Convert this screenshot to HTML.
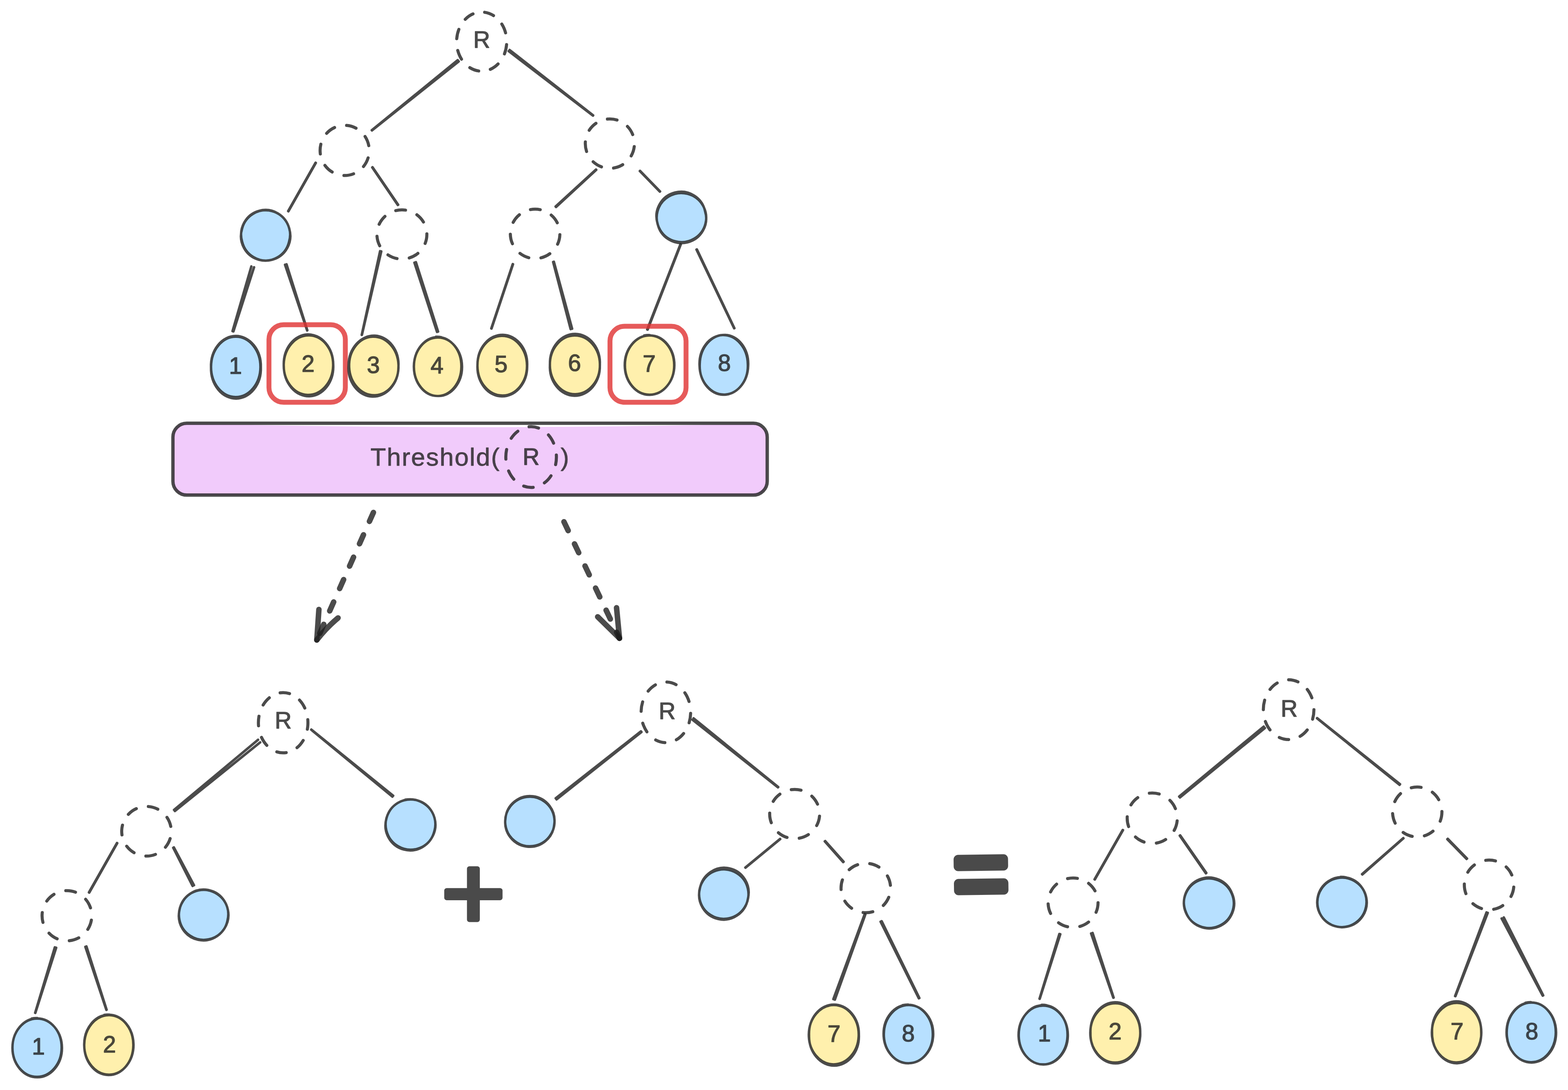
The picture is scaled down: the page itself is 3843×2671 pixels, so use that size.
<!DOCTYPE html>
<html lang="en"><head><meta charset="utf-8"><title>Threshold tree diagram</title>
<style>
html,body{margin:0;padding:0;background:#ffffff;}
body{width:3843px;height:2671px;overflow:hidden;}
svg{display:block;}
text{font-family:"Liberation Sans",sans-serif;fill:#1e1e1e;stroke:#1e1e1e;opacity:0.8;stroke-linejoin:round;stroke-linecap:round;}
.num{font-size:57px;stroke-width:1.6px;text-anchor:middle;}
.ln{stroke:#1e1e1e;stroke-opacity:0.8;stroke-linecap:round;fill:none;}
.el{stroke:#1e1e1e;stroke-opacity:0.8;stroke-width:7.0;fill-opacity:0.8;}
.d{fill:none;stroke-width:7.5;stroke-dasharray:24 30;stroke-linecap:round;}
.b{fill:#a5d8ff;}
.y{fill:#ffec99;}
</style></head><body>
<svg width="3843" height="2671" viewBox="0 0 3843 2671">
<rect width="3843" height="2671" fill="#ffffff"/>
<path d="M458 1037.5Q1152 1055.5 1842 1038.5Q1879.5 1040 1879.5 1073V1179Q1879.5 1213 1845.5 1213H458Q424 1213 424 1179V1071.5Q424 1037.5 458 1037.5Z" fill="#eebefa" fill-opacity="0.8"/>
<rect x="423.8" y="1037.2" width="1456.6" height="176" rx="34" ry="34" fill="none" stroke="#1e1e1e" stroke-opacity="0.8" stroke-width="8.2"/>
<ellipse class="el d" cx="1301.7" cy="1120" rx="62" ry="74.4" pathLength="432" stroke-dashoffset="5.2"/>
<text id="thr" x="908" y="1141" style="font-size:62px;stroke-width:1px;letter-spacing:2.2px">Threshold(</text>
<text class="num" x="1301.5" y="1139">R</text>
<text id="thr2" x="1374" y="1141" style="font-size:62px;stroke-width:1px">)</text>
<path class="ln" d="M1121.8 147.5L911.2 319.1M1124.2 150.5L911.6 319.5" stroke-width="6.2"/>
<path class="ln" d="M1246.9 125.4L1453.3 283.3M1249.1 122.6L1453.7 282.7" stroke-width="6.2"/>
<path class="ln" d="M773.4 398.8L706.3 517.3M774 399.2L706.9 517.7" stroke-width="6.2"/>
<path class="ln" d="M912.4 410.2L975 502.3M913 409.8L975.8 501.7" stroke-width="6.2"/>
<path class="ln" d="M1460.7 415.5L1361.8 506.1M1461.3 416.1L1362.8 507.1" stroke-width="6.2"/>
<path class="ln" d="M1568.2 419.1L1617.3 469.5M1568.6 418.7L1617.7 469.1" stroke-width="6.2"/>
<path class="ln" d="M616 653L569.9 811.5M622.6 655L572.1 812.1" stroke-width="6.2"/>
<path class="ln" d="M698.6 648.8L752.8 809.7M702.2 647.6L753.2 809.5" stroke-width="6.2"/>
<path class="ln" d="M931.6 615.5L886.6 820.6M934.4 616.1L887 820.6" stroke-width="6.2"/>
<path class="ln" d="M1015.7 643.6L1071.1 813.4M1019.3 642.4L1073.7 812.6" stroke-width="6.2"/>
<path class="ln" d="M1256.7 647.3L1204.1 804.9M1257.3 647.5L1204.7 805.1" stroke-width="6.2"/>
<path class="ln" d="M1355.7 641.9L1398.6 806.5M1357.5 641.5L1402.2 805.5" stroke-width="6.2"/>
<path class="ln" d="M1667.6 598.9L1586.3 807.3M1668.4 599.1L1587.3 807.7" stroke-width="6.2"/>
<path class="ln" d="M1707.1 611.6L1799.3 804.5M1707.9 611.2L1799.9 804.3" stroke-width="6.2"/>
<path class="ln" d="M632.4 1812.8L426.6 1984.7M637.6 1819.2L428.6 1987.3" stroke-width="6.2"/>
<path class="ln" d="M762.9 1788.2L961.8 1952.1M763.1 1787.8L963.6 1949.9" stroke-width="6.2"/>
<path class="ln" d="M286.7 2065.8L218 2186.8M287.3 2066.2L218.8 2187.2" stroke-width="6.2"/>
<path class="ln" d="M424.6 2077.4L472 2170.9M426.2 2076.6L475.4 2169.1" stroke-width="6.2"/>
<path class="ln" d="M134.4 2321.5L86.2 2481.9M137.6 2322.5L86.6 2482.1" stroke-width="6.2"/>
<path class="ln" d="M209.2 2320.1L260.7 2474.6M211.8 2319.3L261.3 2474.4" stroke-width="6.2"/>
<path class="ln" d="M1570.9 1792.3L1362 1956.2M1572.1 1793.7L1364 1958.8" stroke-width="6.2"/>
<path class="ln" d="M1697.4 1763.7L1906.7 1929.3M1700 1760.3L1907.3 1928.7" stroke-width="6.2"/>
<path class="ln" d="M1911.8 2055.8L1826.8 2125.8M1912.2 2056.2L1827.2 2126.2" stroke-width="6.2"/>
<path class="ln" d="M2021.5 2061.8L2066.5 2112.4M2022.5 2061L2067.5 2111.6" stroke-width="6.2"/>
<path class="ln" d="M2119.2 2240.4L2042.5 2448.4M2120.8 2241L2046.1 2449.6" stroke-width="6.2"/>
<path class="ln" d="M2158.3 2258.6L2252 2446.3M2160.9 2257.4L2253.2 2445.7" stroke-width="6.2"/>
<path class="ln" d="M3097.2 1780.6L2890.1 1951.9M3100 1784L2891.9 1954.1" stroke-width="6.2"/>
<path class="ln" d="M3227.9 1760.2L3430.1 1923.2M3228.1 1759.8L3431.3 1921.6" stroke-width="6.2"/>
<path class="ln" d="M2751.7 2033.9L2682.7 2154.9M2752.3 2034.1L2683.3 2155.1" stroke-width="6.2"/>
<path class="ln" d="M2891.5 2047.8L2955.5 2139.9M2892.5 2047L2956.5 2139.1" stroke-width="6.2"/>
<path class="ln" d="M3439.3 2053.8L3338.3 2142.2M3439.7 2054.2L3338.9 2142.8" stroke-width="6.2"/>
<path class="ln" d="M3547.3 2056.5L3594.5 2104.9M3548.3 2055.5L3595.5 2103.9" stroke-width="6.2"/>
<path class="ln" d="M2596.4 2288.7L2547.8 2447.4M2598.6 2289.3L2548.2 2447.6" stroke-width="6.2"/>
<path class="ln" d="M2674.2 2287.4L2728.6 2444.8M2677.8 2286.2L2729.4 2444.6" stroke-width="6.2"/>
<path class="ln" d="M3643.3 2235.8L3566.3 2440.9M3646.3 2237L3567.1 2441.1" stroke-width="6.2"/>
<path class="ln" d="M3680.4 2250.8L3781 2439.7M3685.6 2248.2L3782.2 2439.1" stroke-width="6.2"/>
<rect x="659.2" y="795.7" width="187.2" height="190" rx="36" ry="36" fill="none" stroke="#e03131" stroke-opacity="0.8" stroke-width="12"/>
<rect x="1495" y="799.4" width="186.4" height="186.4" rx="36" ry="36" fill="none" stroke="#e03131" stroke-opacity="0.8" stroke-width="12"/>
<ellipse class="el d" cx="1180.5" cy="102" rx="61.4" ry="72.4" pathLength="432" stroke-dashoffset="-7.6"/>
<ellipse class="el d" cx="844.7" cy="368.6" rx="60.2" ry="61.5" pathLength="378" stroke-dashoffset="-18.3"/>
<ellipse class="el d" cx="1494.7" cy="352" rx="60.2" ry="60.5" pathLength="378" stroke-dashoffset="-7.4"/>
<ellipse class="b" cx="651" cy="576.7" rx="59.8" ry="60.3" fill-opacity="0.8"/>
<path class="ln" d="M708.3 592.6A59.7 60 15.1 1 1 593.1 561.4A59.7 60 15.1 1 1 708.3 592.6ZM709.1 560.8A59.9 60.6 -15.1 1 1 593.5 592.1A59.9 60.6 -15.1 1 1 709.1 560.8ZM643 515.3A61.4 61.9 0 0 1 656.8 515.7" stroke-width="5.8"/>
<ellipse class="el d" cx="985" cy="574.5" rx="61.2" ry="60.3" pathLength="378" stroke-dashoffset="1.6"/>
<ellipse class="el d" cx="1311.5" cy="573" rx="60.7" ry="60.5" pathLength="378" stroke-dashoffset="-2.1"/>
<ellipse class="b" cx="1670" cy="533" rx="60.4" ry="59.9" fill-opacity="0.8"/>
<path class="ln" d="M1729 548A60.6 60 14.1 1 1 1611.4 518.4A60.6 60 14.1 1 1 1729 548ZM1728.1 518.1A60.2 59.8 -14.1 1 1 1611.5 547.4A60.2 59.8 -14.1 1 1 1728.1 518.1ZM1665.7 471.7A62 61.5 0 0 1 1679.6 472.8" stroke-width="5.8"/>
<ellipse class="b" cx="578" cy="899.5" rx="60.8" ry="73.8" fill-opacity="0.8"/>
<path class="ln" d="M638.2 899.4A60.4 73.8 0.4 1 1 517.3 898.6A60.4 73.8 0.4 1 1 638.2 899.4ZM639.4 899.6A61.2 73.8 -0.4 1 1 517.1 900.4A61.2 73.8 -0.4 1 1 639.4 899.6ZM569.8 824.8A62.4 75.4 0 0 1 583.9 825" stroke-width="5.8"/>
<ellipse class="y" cx="756" cy="895" rx="60.6" ry="73.3" fill-opacity="0.8"/>
<path class="ln" d="M816.4 896.4A60.5 72.9 1.6 1 1 695.4 893.1A60.5 72.9 1.6 1 1 816.4 896.4ZM816.8 893.6A60.7 73.7 -1.6 1 1 695.5 897A60.7 73.7 -1.6 1 1 816.8 893.6ZM748.1 820.7A62.2 74.9 0 0 1 762.1 821.1" stroke-width="5.8"/>
<ellipse class="y" cx="915.8" cy="897" rx="60.8" ry="71.8" fill-opacity="0.8"/>
<path class="ln" d="M976.6 894.2A60.4 71.6 -2.4 1 1 855.8 899.4A60.4 71.6 -2.4 1 1 976.6 894.2ZM976.5 899.8A61.2 72 2.4 1 1 854.3 894.6A61.2 72 2.4 1 1 976.5 899.8ZM907.4 824.3A62.4 73.4 0 0 1 921.5 824.5" stroke-width="5.8"/>
<ellipse class="y" cx="1073" cy="898.5" rx="58.6" ry="71.9" fill-opacity="0.8"/>
<path class="ln" d="M1130.7 899A58.2 72.1 0.8 1 1 1014.3 897.4A58.2 72.1 0.8 1 1 1130.7 899ZM1132.5 897.9A59 71.7 -0.8 1 1 1014.5 899.6A59 71.7 -0.8 1 1 1132.5 897.9ZM1068.4 825.2A60.2 73.5 0 0 1 1081.9 826.4" stroke-width="5.8"/>
<ellipse class="y" cx="1231" cy="896" rx="60.8" ry="72.9" fill-opacity="0.8"/>
<path class="ln" d="M1291.5 895.1A60.6 72.9 -1 1 1 1170.2 897.2A60.6 72.9 -1 1 1 1291.5 895.1ZM1292.1 896.9A61 72.9 1 1 1 1170.2 894.8A61 72.9 1 1 1 1292.1 896.9ZM1227.4 821.6A62.4 74.5 0 0 1 1241.4 823.2" stroke-width="5.8"/>
<ellipse class="y" cx="1409" cy="894" rx="61.3" ry="71.9" fill-opacity="0.8"/>
<path class="ln" d="M1470.3 893.1A61.3 71.9 -0.8 1 1 1347.7 894.9A61.3 71.9 -0.8 1 1 1470.3 893.1ZM1470.2 894.9A61.3 71.9 0.8 1 1 1347.8 893.1A61.3 71.9 0.8 1 1 1470.2 894.9ZM1394.4 822.5A62.9 73.5 0 0 1 1408.6 821.1" stroke-width="5.8"/>
<ellipse class="y" cx="1592" cy="894.7" rx="60.6" ry="72.6" fill-opacity="0.8"/>
<path class="ln" d="M1652.9 895.3A60.6 72.5 0.7 1 1 1531.7 893.8A60.6 72.5 0.7 1 1 1652.9 895.3ZM1652.3 894.1A60.6 72.7 -0.7 1 1 1531.1 895.6A60.6 72.7 -0.7 1 1 1652.3 894.1ZM1578.6 822.2A62.2 74.2 0 0 1 1592.6 821.1" stroke-width="5.8"/>
<ellipse class="b" cx="1774" cy="894" rx="59.3" ry="71.9" fill-opacity="0.8"/>
<path class="ln" d="M1832.7 891.8A59.2 71.6 -2.1 1 1 1714.4 896.2A59.2 71.6 -2.1 1 1 1832.7 891.8ZM1833.8 896.2A59.4 72.2 2.1 1 1 1715.1 891.8A59.4 72.2 2.1 1 1 1833.8 896.2ZM1761.9 822A60.9 73.5 0 0 1 1775.6 821.1" stroke-width="5.8"/>
<ellipse class="el d" cx="694" cy="1771" rx="60.7" ry="73.8" pathLength="432" stroke-dashoffset="7.7"/>
<ellipse class="el d" cx="359" cy="2037" rx="60.7" ry="60.8" pathLength="378" stroke-dashoffset="-18.1"/>
<ellipse class="b" cx="1006" cy="2021" rx="60.8" ry="61.3" fill-opacity="0.8"/>
<path class="ln" d="M1065.1 2004.7A60.9 61.4 -15.2 1 1 947.4 2036.6A60.9 61.4 -15.2 1 1 1065.1 2004.7ZM1064.3 2037.3A60.7 61.2 15.2 1 1 947.2 2005.4A60.7 61.2 15.2 1 1 1064.3 2037.3ZM993.6 1959.3A62.4 62.9 0 0 1 1007.7 1958.7" stroke-width="5.8"/>
<ellipse class="el d" cx="164" cy="2244" rx="60.9" ry="61.5" pathLength="378" stroke-dashoffset="-10.7"/>
<ellipse class="b" cx="499" cy="2242" rx="60.4" ry="61" fill-opacity="0.8"/>
<path class="ln" d="M557.7 2254.5A60.2 60.9 11.8 1 1 439.9 2229.8A60.2 60.9 11.8 1 1 557.7 2254.5ZM558.6 2229.4A60.6 61.1 -11.8 1 1 439.9 2254.3A60.6 61.1 -11.8 1 1 558.6 2229.4ZM488.7 2180.3A62 62.6 0 0 1 502.7 2180.1" stroke-width="5.8"/>
<ellipse class="b" cx="91" cy="2567.5" rx="60.5" ry="71.8" fill-opacity="0.8"/>
<path class="ln" d="M152 2567.7A60.8 71.9 -0.3 1 1 30.4 2568.3A60.8 71.9 -0.3 1 1 152 2567.7ZM151 2567.3A60.2 71.7 0.3 1 1 30.6 2566.7A60.2 71.7 0.3 1 1 151 2567.3ZM77.5 2495.9A62.1 73.4 0 0 1 91.5 2494.7" stroke-width="5.8"/>
<ellipse class="y" cx="266.7" cy="2560.5" rx="60.3" ry="73.3" fill-opacity="0.8"/>
<path class="ln" d="M327.3 2559A60.5 73.3 -1 1 1 206.3 2561.1A60.5 73.3 -1 1 1 327.3 2559ZM326.7 2562A60.1 73.3 1 1 1 206.5 2559.9A60.1 73.3 1 1 1 326.7 2562ZM255.5 2486.8A61.9 74.9 0 0 1 269.4 2486.3" stroke-width="5.8"/>
<ellipse class="el d" cx="1632" cy="1745.5" rx="60.7" ry="74.3" pathLength="432" stroke-dashoffset="-2.6"/>
<ellipse class="b" cx="1298.6" cy="2013" rx="60.3" ry="60.3" fill-opacity="0.8"/>
<path class="ln" d="M1358.6 2005.6A60.4 60.5 -7.1 1 1 1238.6 2020.5A60.4 60.5 -7.1 1 1 1358.6 2005.6ZM1358.3 2020.4A60.2 60.1 7.1 1 1 1238.9 2005.5A60.2 60.1 7.1 1 1 1358.3 2020.4ZM1296.2 1951.1A61.9 61.9 0 0 1 1310.1 1952.8" stroke-width="5.8"/>
<ellipse class="el d" cx="1947.6" cy="1994.7" rx="61.2" ry="60.3" pathLength="378" stroke-dashoffset="-5.3"/>
<ellipse class="b" cx="1774" cy="2190.5" rx="60.3" ry="60.8" fill-opacity="0.8"/>
<path class="ln" d="M1832.9 2178A60.4 60.4 -12.4 1 1 1714.9 2204A60.4 60.4 -12.4 1 1 1832.9 2178ZM1832.9 2202.9A60.2 61.2 12.4 1 1 1715.4 2177.1A60.2 61.2 12.4 1 1 1832.9 2202.9ZM1760.3 2129.7A61.9 62.4 0 0 1 1774.2 2128.7" stroke-width="5.8"/>
<ellipse class="el d" cx="2122" cy="2176" rx="60.7" ry="60.5" pathLength="378" stroke-dashoffset="-23.2"/>
<ellipse class="y" cx="2043.7" cy="2536" rx="61.1" ry="72.3" fill-opacity="0.8"/>
<path class="ln" d="M2104.5 2536.1A61.1 72.5 0.6 1 1 1982.2 2534.9A61.1 72.5 0.6 1 1 2104.5 2536.1ZM2105.1 2535.9A61.1 72.1 -0.6 1 1 1983 2537.1A61.1 72.1 -0.6 1 1 2105.1 2535.9ZM2034 2463A62.7 73.9 0 0 1 2048.1 2462.9" stroke-width="5.8"/>
<ellipse class="b" cx="2226.3" cy="2534" rx="60.4" ry="71.3" fill-opacity="0.8"/>
<path class="ln" d="M2286.1 2532.8A60.3 71.5 -1 1 1 2165.5 2534.9A60.3 71.5 -1 1 1 2286.1 2532.8ZM2287.3 2535.2A60.5 71.1 1 1 1 2166.3 2533.1A60.5 71.1 1 1 1 2287.3 2535.2ZM2212.1 2463.1A62 72.9 0 0 1 2226 2461.7" stroke-width="5.8"/>
<ellipse class="el d" cx="3158.3" cy="1739" rx="62" ry="73.3" pathLength="432" stroke-dashoffset="-0"/>
<ellipse class="el d" cx="2824" cy="2005" rx="61.4" ry="61.8" pathLength="378" stroke-dashoffset="-6.5"/>
<ellipse class="el d" cx="3473.5" cy="1989.7" rx="60.5" ry="61.1" pathLength="378" stroke-dashoffset="1.1"/>
<ellipse class="el d" cx="2630" cy="2212" rx="61.2" ry="60.5" pathLength="378" stroke-dashoffset="-0"/>
<ellipse class="b" cx="2963" cy="2213" rx="61.1" ry="60.8" fill-opacity="0.8"/>
<path class="ln" d="M3019.9 2190A61 61.1 -21.9 1 1 2906.7 2235.4A61 61.1 -21.9 1 1 3019.9 2190ZM3019.5 2236.1A61.2 60.5 21.9 1 1 2905.9 2190.5A61.2 60.5 21.9 1 1 3019.5 2236.1ZM2956 2151A62.7 62.4 0 0 1 2970.1 2151.6" stroke-width="5.8"/>
<ellipse class="b" cx="3289" cy="2211" rx="60.4" ry="60.9" fill-opacity="0.8"/>
<path class="ln" d="M3347.8 2222.4A60.3 61.1 11.3 1 1 3229.5 2198.7A60.3 61.1 11.3 1 1 3347.8 2222.4ZM3348.7 2199.6A60.5 60.7 -11.3 1 1 3230 2223.3A60.5 60.7 -11.3 1 1 3348.7 2199.6ZM3285.7 2148.6A62 62.5 0 0 1 3299.7 2150" stroke-width="5.8"/>
<ellipse class="el d" cx="3649.6" cy="2168.4" rx="60.7" ry="60.8" pathLength="378" stroke-dashoffset="-5.3"/>
<ellipse class="b" cx="2556.7" cy="2536" rx="60.1" ry="72.3" fill-opacity="0.8"/>
<path class="ln" d="M2616.3 2536.4A59.7 72.5 0.8 1 1 2496.9 2534.9A59.7 72.5 0.8 1 1 2616.3 2536.4ZM2617.3 2535.6A60.5 72.1 -0.8 1 1 2496.3 2537.2A60.5 72.1 -0.8 1 1 2617.3 2535.6ZM2552.5 2462.3A61.7 73.9 0 0 1 2566.3 2463.6" stroke-width="5.8"/>
<ellipse class="y" cx="2733.5" cy="2531" rx="61.1" ry="72.3" fill-opacity="0.8"/>
<path class="ln" d="M2794.6 2531.7A61.2 72.4 0.5 1 1 2672.1 2530.6A61.2 72.4 0.5 1 1 2794.6 2531.7ZM2794.6 2530.3A61 72.2 -0.5 1 1 2672.7 2531.4A61 72.2 -0.5 1 1 2794.6 2530.3ZM2722.5 2458.3A62.7 73.9 0 0 1 2736.6 2457.8" stroke-width="5.8"/>
<ellipse class="y" cx="3570" cy="2530" rx="60.4" ry="73" fill-opacity="0.8"/>
<path class="ln" d="M3630.2 2528.5A60.2 73.3 -1 1 1 3509.9 2530.6A60.2 73.3 -1 1 1 3630.2 2528.5ZM3630.6 2531.5A60.6 72.7 1 1 1 3509.3 2529.4A60.6 72.7 1 1 1 3630.6 2531.5ZM3556.6 2457.2A62 74.6 0 0 1 3570.6 2456" stroke-width="5.8"/>
<ellipse class="b" cx="3753" cy="2530" rx="60.4" ry="73.3" fill-opacity="0.8"/>
<path class="ln" d="M3813.9 2530A60.5 73.4 -0.3 1 1 3692.9 2530.7A60.5 73.4 -0.3 1 1 3813.9 2530ZM3812.9 2530A60.3 73.2 0.3 1 1 3692.3 2529.3A60.3 73.2 0.3 1 1 3812.9 2530ZM3738.3 2457.2A62 74.9 0 0 1 3752.2 2455.7" stroke-width="5.8"/>
<text class="num" x="1180.5" y="117.3">R</text>
<text class="num" x="577" y="916.2">1</text>
<text class="num" x="755" y="910.5">2</text>
<text class="num" x="915" y="913.5">3</text>
<text class="num" x="1071" y="914.5">4</text>
<text class="num" x="1228" y="911.5">5</text>
<text class="num" x="1408" y="909.1">6</text>
<text class="num" x="1591" y="910.5">7</text>
<text class="num" x="1775.4" y="909.1">8</text>
<text class="num" x="694" y="1785.0">R</text>
<text class="num" x="94" y="2583.5">1</text>
<text class="num" x="268.4" y="2579.2">2</text>
<text class="num" x="1635" y="1761.5">R</text>
<text class="num" x="2044" y="2552.5">7</text>
<text class="num" x="2226" y="2552.0">8</text>
<text class="num" x="3159.6" y="1755.5">R</text>
<text class="num" x="2559.5" y="2552.0">1</text>
<text class="num" x="2733" y="2546.5">2</text>
<text class="num" x="3571" y="2546.5">7</text>
<text class="num" x="3754.4" y="2546.5">8</text>
<line class="ln" x1="915.2" y1="1255.7" x2="776.5" y2="1568.2" stroke-width="13.5" stroke-dasharray="24 36"/>
<path class="ln" d="M781.6 1493.4Q779.1 1530.8 776.5 1568.2" stroke-width="13.5"/>
<path class="ln" d="M828.5 1514.2Q799.6 1538.4 776.5 1568.2" stroke-width="13.5"/>
<line class="ln" x1="1382.2" y1="1278.6" x2="1518.3" y2="1564" stroke-width="13.5" stroke-dasharray="24 36"/>
<path class="ln" d="M1464.8 1511.4Q1491.6 1537.7 1518.3 1564" stroke-width="13.5"/>
<path class="ln" d="M1511.1 1489.3Q1514.7 1526.7 1518.3 1564" stroke-width="13.5"/>
<text id="plus" x="1160.3" y="2280.6" style="font-size:269px;text-anchor:middle;stroke-width:12.2px" transform="translate(0 2189.8) scale(1 0.95) translate(0 -2189.8)">+</text>
<text id="eq" x="2404.5" y="2221.0" style="font-size:236px;text-anchor:middle;stroke-width:23px" transform="rotate(-0.8 2404.5 2142.5) translate(2404.5 0) scale(0.97 1) translate(-2404.5 0)">=</text>
</svg></body></html>
